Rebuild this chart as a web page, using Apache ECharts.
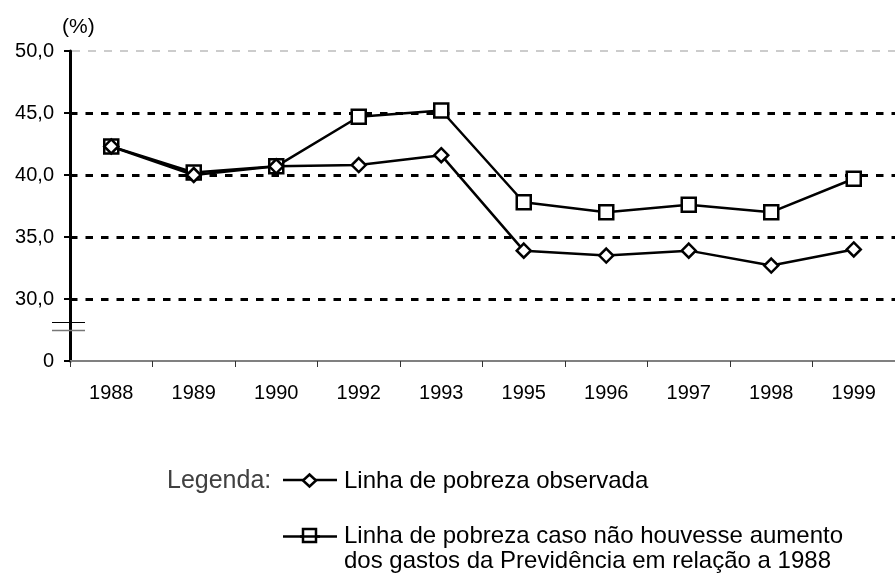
<!DOCTYPE html>
<html><head><meta charset="utf-8">
<script src="https://cdn.jsdelivr.net/npm/echarts@6/dist/echarts.min.js"></script>
<style>html,body{margin:0;padding:0;background:#fff}#c{width:895px;height:576px}</style>
</head><body><div id="c"></div>
<script>
const categories = ['1988','1989','1990','1992','1993','1995','1996','1997','1998','1999'];
const observada = [42.3, 40.0, 40.7, 40.8, 41.6, 33.9, 33.5, 33.9, 32.7, 34.0];
const semAumento = [42.3, 40.2, 40.7, 44.7, 45.2, 37.8, 37.0, 37.6, 37.0, 39.7];
const yTicks = {25:'0', 30:'30,0', 35:'35,0', 40:'40,0', 45:'45,0', 50:'50,0'};
const nameObs = 'Linha de pobreza observada';
const nameSem = 'Linha de pobreza caso não houvesse aumento\ndos gastos da Previdência em relação a 1988';

const font = 'Liberation Sans, Arial, sans-serif';
const chart = echarts.init(document.getElementById('c'));
chart.setOption({
  animation: false,
  backgroundColor: '#fff',
  grid: {left: 70, right: -10, top: 51, bottom: 215, containLabel: false},
  xAxis: {
    type: 'category', data: categories, boundaryGap: true,
    axisLine: {show: true, lineStyle: {color: '#808080', width: 2}},
    axisTick: {show: true, length: 6, lineStyle: {color: '#333', width: 1}},
    axisLabel: {color: '#000', fontSize: 20, fontFamily: font, margin: 22}
  },
  yAxis: {
    type: 'value', min: 25, max: 50, interval: 5,
    axisLine: {show: true, lineStyle: {color: '#000', width: 3}},
    axisTick: {show: true, inside: false, length: 6, lineStyle: {color: '#000', width: 2}},
    axisLabel: {color: '#000', fontSize: 20, fontFamily: font, margin: 16,
      formatter: v => yTicks[v] !== undefined ? yTicks[v] : ''},
    splitLine: {show: true, showMinLine: false, showMaxLine: false,
      lineStyle: {color: '#000', width: 3, type: [7.5, 8]}},
  },
  series: [
    {name: nameSem, type: 'line', data: semAumento, symbol: 'rect', symbolSize: 14,
     lineStyle: {color: '#000', width: 2.5}, itemStyle: {color: '#fff', borderColor: '#000', borderWidth: 2.5}, z: 3},
    {name: nameObs, type: 'line', data: observada, symbol: 'diamond', symbolSize: 14,
     lineStyle: {color: '#000', width: 2.5}, itemStyle: {color: '#fff', borderColor: '#000', borderWidth: 2.5}, z: 4}
  ],
  graphic: [
    {type: 'line', shape: {x1: 72, y1: 51, x2: 895, y2: 51}, style: {stroke: '#999', lineWidth: 1, lineDash: [8, 8]}, z: 2},
    {type: 'text', left: 62, top: 17, style: {text: '(%)', fontSize: 21, fontFamily: font, fill: '#000'}},
    // axis break
    {type: 'line', shape: {x1: 52, y1: 322.5, x2: 85, y2: 322.5}, style: {stroke: '#000', lineWidth: 1}, z: 10},
    {type: 'line', shape: {x1: 52, y1: 330.5, x2: 85, y2: 330.5}, style: {stroke: '#777', lineWidth: 1.5}, z: 10},
    // legend
    {type: 'text', x: 167, y: 481, style: {text: 'Legenda:', fontSize: 25, fontFamily: font, fill: '#404040', verticalAlign: 'middle'}},
    {type: 'line', shape: {x1: 283, y1: 480, x2: 337, y2: 480}, style: {stroke: '#000', lineWidth: 2.5}},
    {type: 'polygon', shape: {points: [[309.5, 474.5], [316, 480.5], [309.5, 486.5], [303, 480.5]]}, style: {fill: '#fff', stroke: '#000', lineWidth: 2.5}},
    {type: 'text', x: 344, y: 481, style: {text: nameObs, fontSize: 24, fontFamily: font, fill: '#000', verticalAlign: 'middle'}},
    {type: 'line', shape: {x1: 283, y1: 536.5, x2: 337, y2: 536.5}, style: {stroke: '#000', lineWidth: 2.5}},
    {type: 'rect', shape: {x: 303, y: 529, width: 13, height: 13}, style: {fill: '#fff', stroke: '#000', lineWidth: 2.5}},
    {type: 'line', shape: {x1: 300, y1: 536.5, x2: 320, y2: 536.5}, style: {stroke: '#000', lineWidth: 2.5}},
    {type: 'text', x: 344, y: 524, style: {text: nameSem, fontSize: 24, lineHeight: 25, fontFamily: font, fill: '#000', verticalAlign: 'top'}}
  ]
});
</script></body></html>
